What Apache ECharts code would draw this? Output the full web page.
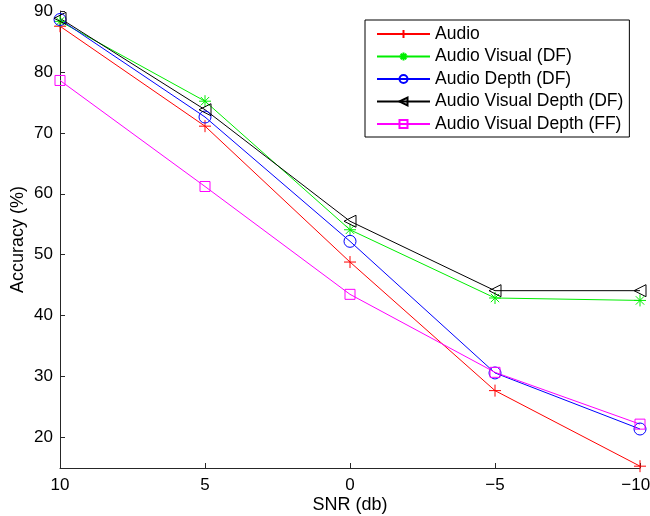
<!DOCTYPE html>
<html>
<head>
<meta charset="utf-8">
<script src="https://cdn.jsdelivr.net/npm/echarts@6/dist/echarts.min.js"></script>
<style>
  html, body { margin: 0; padding: 0; background: #fff; }
  #main { width: 650px; height: 516px; }
</style>
</head>
<body>
<div id="main"></div>
<script>
// SNR levels along the x axis
var snrLabels = ['10', '5', '0', '\u22125', '\u221210'];
var yTicks = [20, 30, 40, 50, 60, 70, 80, 90];

// accuracy (%) per SNR level
var audio = [87.5, 71.1, 48.8, 27.7, 15.3];
var audioVisualDF = [88.3, 75.2, 54.1, 42.9, 42.5];
var audioDepthDF = [88.6, 72.6, 52.2, 30.6, 21.4];
var audioVisualDepthDF = [88.8, 73.8, 55.5, 44.1, 44.1];
var audioVisualDepthFF = [78.6, 61.2, 43.5, 30.7, 22.2];

var font = 'Liberation Sans, Arial, Helvetica, sans-serif';

var plus = 'path://M5,0V10M0,5H10';
var star = 'path://M5,0V10M0,5H10M1.5,1.5L8.5,8.5M8.5,1.5L1.5,8.5';
var triLeft = 'path://M0,5L10,0L10,10Z';

function mk(name, data, color, symbol, size) {
    return {
        name: name,
        type: 'line',
        data: data,
        symbol: symbol,
        symbolSize: size,
        showAllSymbol: true,
        lineStyle: { color: color, width: 1 },
        itemStyle: { color: 'transparent', borderColor: color, borderWidth: 1 },
        emphasis: { disabled: true },
        animation: false
    };
}

var chart = echarts.init(document.getElementById('main'));
chart.setOption({
    backgroundColor: '#fff',
    animation: false,
    grid: { left: 60, right: 10, top: 11, bottom: 48, outerBoundsMode: 'none' },
    legend: {
        orient: 'vertical',
        left: 365,
        top: 20,
        padding: [5, 6, 4, 11],
        itemGap: 4.5,
        itemWidth: 53,
        itemHeight: 10,
        backgroundColor: '#fff',
        borderColor: '#000',
        borderWidth: 1,
        borderRadius: 0,
        textStyle: { fontFamily: font, fontSize: 17.5, color: '#000' }
    },
    xAxis: {
        type: 'category',
        data: snrLabels,
        boundaryGap: false,
        name: 'SNR (db)',
        nameLocation: 'middle',
        nameGap: 28,
        nameMoveOverlap: false,
        nameTextStyle: { fontFamily: font, fontSize: 18, color: '#000' },
        axisLine: { lineStyle: { color: '#262626', width: 1 } },
        axisTick: { inside: true, length: 5, alignWithLabel: true, lineStyle: { color: '#262626' } },
        axisLabel: {
            fontFamily: font, fontSize: 17, color: '#000', margin: 9,
            formatter: function (v, i) { return i === snrLabels.length - 1 ? v + '\u2002' : v; }
        },
        splitLine: { show: false }
    },
    yAxis: {
        type: 'value',
        min: 15,
        max: 90,
        name: 'Accuracy (%)',
        nameLocation: 'middle',
        nameGap: 33,
        nameMoveOverlap: false,
        nameTextStyle: { fontFamily: font, fontSize: 18, color: '#000' },
        axisLine: { show: true, lineStyle: { color: '#262626', width: 1 } },
        axisTick: { show: true, inside: true, length: 5, customValues: yTicks, lineStyle: { color: '#262626' } },
        axisLabel: { fontFamily: font, fontSize: 17, color: '#000', margin: 7, customValues: yTicks },
        splitLine: { show: false }
    },
    series: [
        mk('Audio', audio, '#ff0000', plus, 12),
        mk('Audio Visual (DF)', audioVisualDF, '#00ee00', star, 12),
        mk('Audio Depth (DF)', audioDepthDF, '#0000ff', 'circle', 12),
        mk('Audio Visual Depth (DF)', audioVisualDepthDF, '#000000', triLeft, 12),
        mk('Audio Visual Depth (FF)', audioVisualDepthFF, '#ff00ff', 'rect', 10)
    ]
});
</script>
</body>
</html>
